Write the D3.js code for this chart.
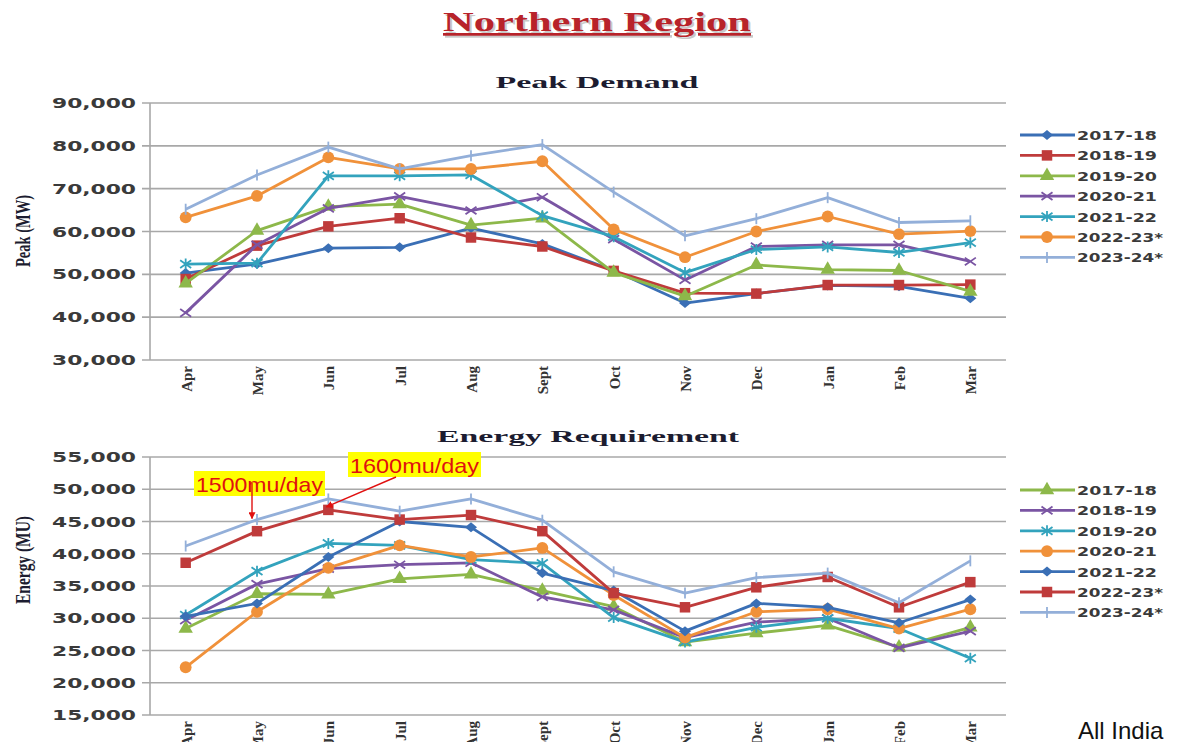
<!DOCTYPE html>
<html>
<head>
<meta charset="utf-8">
<script src="https://cdn.jsdelivr.net/npm/d3@7"></script>
<style>
  body { margin: 0; background: #fff; }
  svg { display: block; }
</style>
</head>
<body>
<div id="chart"></div>
<script>
// months on x axis
var months = ["Apr", "May", "Jun", "Jul", "Aug", "Sept", "Oct", "Nov", "Dec", "Jan", "Feb", "Mar"];
var years = ["2017-18", "2018-19", "2019-20", "2020-21", "2021-22", "2022-23*", "2023-24*"];

// Peak Demand (MW)
var peak_2017_18 = [50300, 52400, 56100, 56300, 60800, 57100, 50900, 43300, 45500, 47400, 47200, 44400];
var peak_2018_19 = [48900, 56700, 61200, 63100, 58600, 56500, 50800, 45600, 45500, 47500, 47500, 47600];
var peak_2019_20 = [47900, 60200, 65800, 66400, 61500, 63100, 50400, 44900, 52200, 51100, 50900, 46000];
var peak_2020_21 = [41000, 56900, 65400, 68200, 64900, 68000, 58200, 48700, 56500, 56900, 56900, 53000];
var peak_2021_22 = [52400, 52600, 73000, 73000, 73200, 63700, 58800, 50400, 55800, 56400, 55100, 57400];
var peak_2022_23 = [63300, 68300, 77300, 74600, 74600, 76400, 60500, 54000, 60000, 63500, 59400, 60100];
var peak_2023_24 = [65200, 73200, 79700, 74600, 77700, 80300, 69200, 59000, 63000, 67900, 62100, 62500];

// Energy Requirement (MU)
var energy_2017_18 = [28400, 33800, 33700, 36100, 36800, 34300, 31800, 26300, 27700, 28900, 25500, 28600];
var energy_2018_19 = [29700, 35300, 37700, 38300, 38600, 33300, 31300, 27000, 29400, 30000, 25400, 28000];
var energy_2019_20 = [30500, 37300, 41600, 41300, 39100, 38500, 30100, 26300, 28600, 30000, 28400, 23800];
var energy_2020_21 = [22400, 31000, 37800, 41300, 39500, 40900, 33600, 27000, 31000, 31400, 28400, 31400];
var energy_2021_22 = [30300, 32300, 39500, 45000, 44100, 37000, 34300, 28000, 32300, 31700, 29300, 32900];
var energy_2022_23 = [38600, 43500, 46800, 45300, 46000, 43500, 33900, 31700, 34800, 36400, 31700, 35600];
var energy_2023_24 = [41200, 45300, 48500, 46600, 48500, 45200, 37200, 33900, 36300, 37000, 32400, 38900];

var peakTicks = [30000, 40000, 50000, 60000, 70000, 80000, 90000];
var energyTicks = [15000, 20000, 25000, 30000, 35000, 40000, 45000, 50000, 55000];

var C = {
  blue: "#3a6fb5", red: "#bf3b3b", green: "#8db84a", purple: "#7a55a3",
  teal: "#33a3bd", orange: "#f0913a", lightblue: "#93afd9"
};

var peakSeries = [
  {name: years[0], values: peak_2017_18, color: C.blue, marker: "diamond"},
  {name: years[1], values: peak_2018_19, color: C.red, marker: "square"},
  {name: years[2], values: peak_2019_20, color: C.green, marker: "triangle"},
  {name: years[3], values: peak_2020_21, color: C.purple, marker: "x"},
  {name: years[4], values: peak_2021_22, color: C.teal, marker: "star"},
  {name: years[5], values: peak_2022_23, color: C.orange, marker: "circle"},
  {name: years[6], values: peak_2023_24, color: C.lightblue, marker: "plus"}
];
var energySeries = [
  {name: years[0], values: energy_2017_18, color: C.green, marker: "triangle"},
  {name: years[1], values: energy_2018_19, color: C.purple, marker: "x"},
  {name: years[2], values: energy_2019_20, color: C.teal, marker: "star"},
  {name: years[3], values: energy_2020_21, color: C.orange, marker: "circle"},
  {name: years[4], values: energy_2021_22, color: C.blue, marker: "diamond"},
  {name: years[5], values: energy_2022_23, color: C.red, marker: "square"},
  {name: years[6], values: energy_2023_24, color: C.lightblue, marker: "plus"}
];

var width = 1187, height = 742;
var svg = d3.select("#chart").append("svg")
    .attr("width", width)
    .attr("height", height);

var defs = svg.append("defs");
defs.append("marker")
    .attr("id", "arrow")
    .attr("viewBox", "0 0 10 10")
    .attr("refX", 9).attr("refY", 5)
    .attr("markerWidth", 5).attr("markerHeight", 5)
    .attr("orient", "auto")
  .append("path")
    .attr("d", "M0,0L10,5L0,10Z")
    .attr("fill", "#e01010");

// main title with a soft shadow
svg.append("text")
    .attr("x", 599).attr("y", 33)
    .attr("text-anchor", "middle")
    .attr("font-family", "Liberation Serif, serif")
    .attr("font-weight", "bold")
    .attr("font-size", 27)
    .attr("textLength", 308).attr("lengthAdjust", "spacingAndGlyphs")
    .attr("fill", "#c9c9c9")
    .attr("text-decoration", "underline")
    .text("Northern Region");
svg.append("text")
    .attr("x", 597).attr("y", 31)
    .attr("text-anchor", "middle")
    .attr("font-family", "Liberation Serif, serif")
    .attr("font-weight", "bold")
    .attr("font-size", 27)
    .attr("textLength", 308).attr("lengthAdjust", "spacingAndGlyphs")
    .attr("fill", "#b8232a")
    .attr("text-decoration", "underline")
    .text("Northern Region");

function drawPanel(opt) {
  var x = d3.scalePoint().domain(months).range([150, 1006]).padding(0.5);
  var y = d3.scaleLinear().domain(opt.domain).range([opt.bottom, opt.top]);
  var g = svg.append("g");

  // sub title
  g.append("text")
      .attr("x", opt.titleX).attr("y", opt.top - 15)
      .attr("text-anchor", "middle")
      .attr("font-family", "Liberation Serif, serif")
      .attr("font-weight", "bold")
      .attr("font-size", 17)
      .attr("textLength", opt.titleLen).attr("lengthAdjust", "spacingAndGlyphs")
      .attr("fill", "#1c1c30")
      .text(opt.title);

  // gridlines
  g.selectAll(".grid").data(opt.ticks).enter().append("line")
      .attr("x1", 142).attr("x2", 1006)
      .attr("y1", function(d) { return y(d); })
      .attr("y2", function(d) { return y(d); })
      .attr("stroke", "#a8a8a8")
      .attr("stroke-width", 1.6);
  g.append("line")
      .attr("x1", 150).attr("x2", 150)
      .attr("y1", opt.top).attr("y2", opt.bottom)
      .attr("stroke", "#a8a8a8").attr("stroke-width", 1.6);

  // y tick labels
  g.selectAll(".ytl").data(opt.ticks).enter().append("text")
      .attr("x", 136)
      .attr("y", function(d) { return y(d) + 5; })
      .attr("text-anchor", "end")
      .attr("font-family", "DejaVu Sans, sans-serif")
      .attr("font-weight", "bold")
      .attr("font-size", 14)
      .attr("textLength", 84).attr("lengthAdjust", "spacingAndGlyphs")
      .attr("fill", "#3a3a3a")
      .text(function(d) { return d3.format(",")(d); });

  // y axis title
  g.append("text")
      .attr("transform", "translate(30," + opt.labelY + ") rotate(-90)")
      .attr("text-anchor", "middle")
      .attr("font-family", "Liberation Serif, serif")
      .attr("font-weight", "bold")
      .attr("font-size", 20)
      .attr("textLength", opt.labelLen).attr("lengthAdjust", "spacingAndGlyphs")
      .attr("fill", "#1c1c30")
      .text(opt.yLabel);

  // x tick labels, rotated
  g.selectAll(".xtl").data(months).enter().append("text")
      .attr("transform", function(d) { return "translate(" + (x(d) + 6) + "," + (opt.bottom + 6) + ") rotate(-90)"; })
      .attr("text-anchor", "end")
      .attr("font-family", "Liberation Serif, serif")
      .attr("font-weight", "bold")
      .attr("font-size", 15)
      .attr("fill", "#333")
      .text(function(d) { return d; });

  var line = d3.line()
      .x(function(d, i) { return x(months[i]); })
      .y(function(d) { return y(d); });

  opt.series.forEach(function(s) {
    g.append("path")
        .datum(s.values)
        .attr("d", line)
        .attr("fill", "none")
        .attr("stroke", s.color)
        .attr("stroke-width", 2.8)
        .attr("stroke-linejoin", "round");
    s.values.forEach(function(v, i) {
      drawMarker(g, x(months[i]), y(v), s.marker, s.color);
    });
  });

  // legend
  opt.series.forEach(function(s, i) {
    var ly = opt.legendY + i * 20.4;
    g.append("line")
        .attr("x1", 1020).attr("x2", 1075)
        .attr("y1", ly).attr("y2", ly)
        .attr("stroke", s.color).attr("stroke-width", 2.8);
    drawMarker(g, 1047, ly, s.marker, s.color);
    g.append("text")
        .attr("x", 1077).attr("y", ly + 5)
        .attr("font-family", "DejaVu Sans, sans-serif")
        .attr("font-weight", "bold")
        .attr("font-size", 13)
        .attr("textLength", s.name.length > 7 ? 86 : 80).attr("lengthAdjust", "spacingAndGlyphs")
        .attr("fill", "#3a3a3a")
        .text(s.name);
  });

  return {x: x, y: y, g: g};
}

function drawMarker(g, cx, cy, type, color) {
  var sym;
  if (type == "square") sym = d3.symbol().type(d3.symbolSquare).size(110);
  if (type == "triangle") sym = d3.symbol().type(d3.symbolTriangle).size(90);
  if (type == "circle") sym = d3.symbol().type(d3.symbolCircle).size(110);
  if (sym) {
    g.append("path")
        .attr("d", sym())
        .attr("transform", "translate(" + cx + "," + cy + ")")
        .attr("fill", color);
    return;
  }
  if (type == "diamond") {
    g.append("path")
        .attr("d", "M-6,0L0,-5L6,0L0,5Z")
        .attr("transform", "translate(" + cx + "," + cy + ")")
        .attr("fill", color);
    return;
  }
  var r = 5.5;
  var d = "";
  if (type == "x" || type == "star") d += "M" + (-r) + "," + (-r * 0.7) + "L" + r + "," + (r * 0.7) + "M" + (-r) + "," + (r * 0.7) + "L" + r + "," + (-r * 0.7);
  if (type == "star" || type == "plus") d += "M0," + (-r) + "L0," + r;
  g.append("path")
      .attr("d", d)
      .attr("transform", "translate(" + cx + "," + cy + ")")
      .attr("fill", "none")
      .attr("stroke", color)
      .attr("stroke-width", 1.8);
}

drawPanel({
  title: "Peak Demand", titleX: 597, titleLen: 203,
  top: 103, bottom: 360, domain: [30000, 90000], ticks: peakTicks,
  yLabel: "Peak (MW)", labelY: 231, labelLen: 72,
  series: peakSeries, legendY: 135
});

var bottom = drawPanel({
  title: "Energy Requirement", titleX: 588, titleLen: 302,
  top: 457, bottom: 715, domain: [15000, 55000], ticks: energyTicks,
  yLabel: "Energy (MU)", labelY: 560, labelLen: 88,
  series: energySeries, legendY: 490
});

// annotations
function callout(label, bx, by, bw, bh) {
  svg.append("rect")
      .attr("x", bx).attr("y", by)
      .attr("width", bw).attr("height", bh)
      .attr("fill", "#ffff00");
  svg.append("text")
      .attr("x", bx + 2).attr("y", by + bh - 4)
      .attr("font-family", "Liberation Sans, Arial, sans-serif")
      .attr("font-size", 21)
      .attr("textLength", bw - 4).attr("lengthAdjust", "spacingAndGlyphs")
      .attr("fill", "#e01010")
      .text(label);
}
callout("1500mu/day", 194, 471, 131, 25);
callout("1600mu/day", 348, 452, 133, 25);

var bx = bottom.x, by = bottom.y;
svg.append("line")
    .attr("x1", bx("May") - 5).attr("y1", 483)
    .attr("x2", bx("May") - 5).attr("y2", by(energy_2023_24[1]) - 1)
    .attr("stroke", "#e01010").attr("stroke-width", 1.4)
    .attr("marker-end", "url(#arrow)");
svg.append("line")
    .attr("x1", 396).attr("y1", 477)
    .attr("x2", bx("Jun") - 2).attr("y2", by(energy_2023_24[2]) + 8)
    .attr("stroke", "#e01010").attr("stroke-width", 1.4)
    .attr("marker-end", "url(#arrow)");

svg.append("text")
    .attr("x", 1078).attr("y", 739)
    .attr("font-family", "Liberation Sans, Arial, sans-serif")
    .attr("font-size", 24)
    .attr("fill", "#111")
    .text("All India");
</script>
</body>
</html>
